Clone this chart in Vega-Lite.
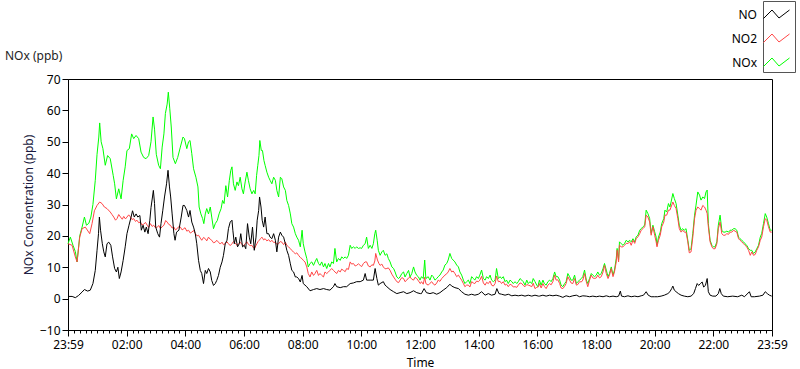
{
"$schema": "https://vega.github.io/schema/vega-lite/v6.json",
"width": 704, "height": 251,
"autosize": {"type": "none"},
"padding": {"left": 68, "top": 79, "right": 28, "bottom": 39},
"background": "white",
"config": {"font": "Noto Sans", "view": {"stroke": "#000", "strokeWidth": 1}},
"title": {"text": "NOx (ppb)", "anchor": "start", "frame": "group", "dx": -63, "offset": 0, "dy": 62, "fontSize": 12, "fontWeight": "normal", "color": "#1e1e1e"},
"datasets": {
"NOx": [{"t":0,"v":17.5},{"t":0.08,"v":19.6},{"t":0.17,"v":17},{"t":0.25,"v":15},{"t":0.31,"v":11.7},{"t":0.4,"v":20},{"t":0.48,"v":22.8},{"t":0.56,"v":26},{"t":0.63,"v":23.4},{"t":0.71,"v":24},{"t":0.78,"v":26},{"t":0.85,"v":30},{"t":0.93,"v":37.7},{"t":0.99,"v":46},{"t":1.05,"v":51.5},{"t":1.08,"v":56},{"t":1.13,"v":50},{"t":1.19,"v":47.8},{"t":1.27,"v":42.5},{"t":1.35,"v":45.6},{"t":1.44,"v":44.6},{"t":1.54,"v":39.3},{"t":1.59,"v":36.6},{"t":1.65,"v":31.8},{"t":1.73,"v":35},{"t":1.81,"v":31.8},{"t":1.88,"v":37.7},{"t":1.95,"v":42},{"t":2.01,"v":47.2},{"t":2.09,"v":47.8},{"t":2.17,"v":52.5},{"t":2.24,"v":51},{"t":2.32,"v":52},{"t":2.41,"v":51},{"t":2.49,"v":46.7},{"t":2.58,"v":45},{"t":2.66,"v":44.6},{"t":2.75,"v":45.6},{"t":2.83,"v":50},{"t":2.9,"v":57.9},{"t":2.95,"v":54},{"t":3.01,"v":46},{"t":3.09,"v":42.5},{"t":3.15,"v":41.4},{"t":3.21,"v":48.3},{"t":3.27,"v":52.5},{"t":3.32,"v":59},{"t":3.38,"v":62},{"t":3.42,"v":65.8},{"t":3.47,"v":60.5},{"t":3.52,"v":54.7},{"t":3.58,"v":45},{"t":3.66,"v":43},{"t":3.74,"v":45},{"t":3.83,"v":48.3},{"t":3.92,"v":51.5},{"t":3.97,"v":51},{"t":4.05,"v":47.8},{"t":4.11,"v":50},{"t":4.16,"v":50.4},{"t":4.22,"v":46.2},{"t":4.28,"v":41.4},{"t":4.36,"v":38.7},{"t":4.43,"v":35.6},{"t":4.47,"v":29.2},{"t":4.53,"v":27},{"t":4.59,"v":25.5},{"t":4.63,"v":23.9},{"t":4.68,"v":27},{"t":4.73,"v":28.7},{"t":4.79,"v":27},{"t":4.85,"v":29.2},{"t":4.9,"v":26},{"t":4.96,"v":22.3},{"t":5.02,"v":23.9},{"t":5.09,"v":24.9},{"t":5.15,"v":27},{"t":5.22,"v":28.7},{"t":5.27,"v":31.3},{"t":5.32,"v":30.3},{"t":5.38,"v":36},{"t":5.44,"v":32.4},{"t":5.5,"v":37.7},{"t":5.55,"v":40.9},{"t":5.59,"v":42},{"t":5.64,"v":36.6},{"t":5.7,"v":34.5},{"t":5.76,"v":37.2},{"t":5.81,"v":36},{"t":5.87,"v":38.7},{"t":5.93,"v":35},{"t":5.98,"v":33.4},{"t":6.04,"v":37.2},{"t":6.1,"v":40.3},{"t":6.15,"v":37.7},{"t":6.21,"v":35},{"t":6.27,"v":33.4},{"t":6.33,"v":34.5},{"t":6.38,"v":33.4},{"t":6.43,"v":39.3},{"t":6.47,"v":42.5},{"t":6.51,"v":45.6},{"t":6.54,"v":50.4},{"t":6.59,"v":47.2},{"t":6.63,"v":47.2},{"t":6.68,"v":44},{"t":6.72,"v":42.5},{"t":6.78,"v":40.3},{"t":6.84,"v":38.7},{"t":6.89,"v":37.7},{"t":6.95,"v":36.6},{"t":7.01,"v":38.7},{"t":7.07,"v":37.7},{"t":7.12,"v":34.5},{"t":7.18,"v":32.4},{"t":7.24,"v":38.7},{"t":7.29,"v":38.2},{"t":7.35,"v":35.6},{"t":7.41,"v":34.5},{"t":7.46,"v":31.3},{"t":7.52,"v":29.7},{"t":7.58,"v":27},{"t":7.63,"v":23.9},{"t":7.69,"v":22.8},{"t":7.75,"v":20.7},{"t":7.8,"v":19.6},{"t":7.86,"v":18.6},{"t":7.92,"v":16.5},{"t":7.98,"v":21.8},{"t":8.02,"v":17.5},{"t":8.08,"v":14.9},{"t":8.14,"v":12.8},{"t":8.19,"v":10.1},{"t":8.25,"v":11.2},{"t":8.31,"v":11.7},{"t":8.37,"v":10.6},{"t":8.42,"v":11.7},{"t":8.48,"v":12.8},{"t":8.54,"v":11.2},{"t":8.59,"v":10.6},{"t":8.65,"v":11.7},{"t":8.71,"v":10.1},{"t":8.76,"v":11.2},{"t":8.82,"v":9.6},{"t":8.88,"v":11.2},{"t":8.93,"v":10.1},{"t":8.99,"v":11.7},{"t":9.05,"v":11.2},{"t":9.1,"v":16},{"t":9.16,"v":11.7},{"t":9.22,"v":12.8},{"t":9.28,"v":12.2},{"t":9.33,"v":13.3},{"t":9.39,"v":12.8},{"t":9.45,"v":13.3},{"t":9.5,"v":12.8},{"t":9.56,"v":13.8},{"t":9.62,"v":17},{"t":9.67,"v":16},{"t":9.73,"v":16.5},{"t":9.79,"v":16},{"t":9.84,"v":16.5},{"t":9.9,"v":16},{"t":9.96,"v":16.2},{"t":10.01,"v":16},{"t":10.07,"v":17},{"t":10.13,"v":17.5},{"t":10.18,"v":19.6},{"t":10.24,"v":16},{"t":10.3,"v":17},{"t":10.36,"v":16},{"t":10.41,"v":17.5},{"t":10.46,"v":20.7},{"t":10.49,"v":21.8},{"t":10.54,"v":18.6},{"t":10.58,"v":15.4},{"t":10.64,"v":13.8},{"t":10.7,"v":14.9},{"t":10.75,"v":15.4},{"t":10.81,"v":13.8},{"t":10.87,"v":14.3},{"t":10.92,"v":12.8},{"t":10.98,"v":11.7},{"t":11.04,"v":10.1},{"t":11.1,"v":9.6},{"t":11.15,"v":8.5},{"t":11.21,"v":6.9},{"t":11.27,"v":6.4},{"t":11.32,"v":6.9},{"t":11.38,"v":8},{"t":11.44,"v":8.5},{"t":11.49,"v":6.9},{"t":11.55,"v":8},{"t":11.61,"v":9},{"t":11.66,"v":6.9},{"t":11.72,"v":8},{"t":11.78,"v":10.1},{"t":11.83,"v":8.5},{"t":11.89,"v":7.4},{"t":11.95,"v":6.9},{"t":12,"v":5.9},{"t":12.05,"v":7},{"t":12.11,"v":6.4},{"t":12.16,"v":12.3},{"t":12.2,"v":6.4},{"t":12.28,"v":7},{"t":12.34,"v":5.9},{"t":12.4,"v":7.5},{"t":12.45,"v":7},{"t":12.51,"v":5.9},{"t":12.57,"v":6.4},{"t":12.62,"v":7},{"t":12.68,"v":7.5},{"t":12.74,"v":8.5},{"t":12.79,"v":9.1},{"t":12.85,"v":10.7},{"t":12.91,"v":11.2},{"t":12.96,"v":12.3},{"t":13.02,"v":14.4},{"t":13.08,"v":12.8},{"t":13.13,"v":12.3},{"t":13.19,"v":11.7},{"t":13.25,"v":10.7},{"t":13.31,"v":10.1},{"t":13.36,"v":8.5},{"t":13.42,"v":7.5},{"t":13.48,"v":5.9},{"t":13.53,"v":4.8},{"t":13.59,"v":5.4},{"t":13.65,"v":5.9},{"t":13.7,"v":4.8},{"t":13.76,"v":7},{"t":13.82,"v":6.4},{"t":13.87,"v":5.9},{"t":13.93,"v":7},{"t":13.99,"v":6.4},{"t":14.04,"v":7.5},{"t":14.1,"v":9.1},{"t":14.16,"v":6.4},{"t":14.22,"v":5.9},{"t":14.27,"v":7},{"t":14.33,"v":6.4},{"t":14.39,"v":7.5},{"t":14.44,"v":5.9},{"t":14.5,"v":5.4},{"t":14.56,"v":5.9},{"t":14.61,"v":9.6},{"t":14.67,"v":6.4},{"t":14.73,"v":7},{"t":14.78,"v":6.4},{"t":14.84,"v":7},{"t":14.9,"v":5.4},{"t":14.95,"v":5.9},{"t":15.01,"v":4.8},{"t":15.07,"v":5.9},{"t":15.13,"v":5.4},{"t":15.18,"v":4.8},{"t":15.24,"v":5.4},{"t":15.3,"v":4.8},{"t":15.35,"v":5.4},{"t":15.41,"v":6.4},{"t":15.47,"v":5.9},{"t":15.52,"v":5.4},{"t":15.58,"v":4.3},{"t":15.64,"v":5.9},{"t":15.69,"v":4.8},{"t":15.75,"v":5.4},{"t":15.81,"v":4.8},{"t":15.86,"v":6.4},{"t":15.92,"v":5.4},{"t":15.98,"v":4.3},{"t":16.02,"v":3.8},{"t":16.07,"v":5.9},{"t":16.13,"v":4.3},{"t":16.19,"v":5.9},{"t":16.24,"v":4.8},{"t":16.3,"v":4.3},{"t":16.36,"v":5.4},{"t":16.42,"v":5.9},{"t":16.47,"v":5.4},{"t":16.53,"v":6.4},{"t":16.59,"v":8.5},{"t":16.64,"v":7},{"t":16.7,"v":7},{"t":16.76,"v":5.9},{"t":16.81,"v":4.3},{"t":16.87,"v":3.8},{"t":16.93,"v":4.8},{"t":16.98,"v":5.4},{"t":17.04,"v":8},{"t":17.1,"v":7},{"t":17.15,"v":5.9},{"t":17.21,"v":5.9},{"t":17.27,"v":7.5},{"t":17.33,"v":4.8},{"t":17.38,"v":5.4},{"t":17.44,"v":5.9},{"t":17.5,"v":6.4},{"t":17.55,"v":7},{"t":17.61,"v":9.1},{"t":17.67,"v":5.9},{"t":17.72,"v":4.8},{"t":17.78,"v":6.4},{"t":17.84,"v":8},{"t":17.89,"v":7.5},{"t":17.95,"v":7},{"t":18.01,"v":7.5},{"t":18.06,"v":8.5},{"t":18.12,"v":7.5},{"t":18.18,"v":8},{"t":18.24,"v":9.6},{"t":18.29,"v":11.2},{"t":18.35,"v":9.1},{"t":18.41,"v":7},{"t":18.46,"v":8},{"t":18.52,"v":10.1},{"t":18.58,"v":7.5},{"t":18.63,"v":9.1},{"t":18.69,"v":12.8},{"t":18.72,"v":16},{"t":18.77,"v":12.3},{"t":18.8,"v":18.1},{"t":18.86,"v":17.5},{"t":18.92,"v":17},{"t":18.97,"v":17.5},{"t":19.03,"v":18.6},{"t":19.09,"v":18.1},{"t":19.15,"v":18.6},{"t":19.2,"v":18.1},{"t":19.26,"v":19.1},{"t":19.32,"v":18.1},{"t":19.37,"v":19.7},{"t":19.43,"v":20.2},{"t":19.49,"v":21.8},{"t":19.54,"v":22.3},{"t":19.6,"v":22.9},{"t":19.66,"v":23.4},{"t":19.71,"v":28.2},{"t":19.77,"v":27.1},{"t":19.83,"v":25.5},{"t":19.88,"v":20.8},{"t":19.94,"v":23.4},{"t":20,"v":21.3},{"t":20.05,"v":19.6},{"t":20.08,"v":17},{"t":20.13,"v":19.6},{"t":20.19,"v":21.2},{"t":20.24,"v":23.9},{"t":20.31,"v":25.5},{"t":20.35,"v":28.2},{"t":20.41,"v":27.6},{"t":20.47,"v":30.3},{"t":20.52,"v":29.2},{"t":20.56,"v":30.8},{"t":20.62,"v":33.5},{"t":20.67,"v":31.9},{"t":20.73,"v":30.3},{"t":20.79,"v":26.6},{"t":20.84,"v":23.4},{"t":20.9,"v":21.8},{"t":20.96,"v":22.3},{"t":21.01,"v":21.8},{"t":21.07,"v":22.3},{"t":21.13,"v":18.6},{"t":21.18,"v":15.4},{"t":21.24,"v":15.9},{"t":21.3,"v":20.8},{"t":21.36,"v":26.6},{"t":21.41,"v":29.8},{"t":21.47,"v":34},{"t":21.53,"v":33},{"t":21.58,"v":31.4},{"t":21.64,"v":32.4},{"t":21.7,"v":31.9},{"t":21.75,"v":34},{"t":21.79,"v":34.6},{"t":21.83,"v":23.9},{"t":21.89,"v":18.6},{"t":21.95,"v":17},{"t":22,"v":16.5},{"t":22.06,"v":16.5},{"t":22.12,"v":18.1},{"t":22.17,"v":23.4},{"t":22.23,"v":26.6},{"t":22.29,"v":21.8},{"t":22.34,"v":21.2},{"t":22.4,"v":21.2},{"t":22.46,"v":21.5},{"t":22.52,"v":21.2},{"t":22.57,"v":21.8},{"t":22.63,"v":21.8},{"t":22.69,"v":22.3},{"t":22.74,"v":22.3},{"t":22.8,"v":21.8},{"t":22.86,"v":19.6},{"t":22.91,"v":19.1},{"t":22.97,"v":18.6},{"t":23.03,"v":18.1},{"t":23.08,"v":17.5},{"t":23.14,"v":17},{"t":23.2,"v":15.9},{"t":23.26,"v":15.4},{"t":23.31,"v":15.4},{"t":23.37,"v":14.4},{"t":23.43,"v":14.9},{"t":23.48,"v":15.9},{"t":23.54,"v":17},{"t":23.6,"v":19.6},{"t":23.65,"v":20.8},{"t":23.71,"v":23.9},{"t":23.77,"v":27.1},{"t":23.82,"v":26},{"t":23.88,"v":23.9},{"t":23.94,"v":21.8},{"t":23.99,"v":21.8}],
"NO2": [{"t":0,"v":17.5},{"t":0.14,"v":17},{"t":0.25,"v":13.3},{"t":0.31,"v":11.7},{"t":0.4,"v":19.6},{"t":0.48,"v":22.3},{"t":0.59,"v":22.8},{"t":0.74,"v":20.7},{"t":0.82,"v":23.9},{"t":0.9,"v":28},{"t":0.99,"v":29.7},{"t":1.08,"v":30.8},{"t":1.16,"v":30.3},{"t":1.24,"v":29.2},{"t":1.33,"v":28.7},{"t":1.44,"v":27.6},{"t":1.5,"v":26.8},{"t":1.56,"v":26},{"t":1.62,"v":25},{"t":1.67,"v":25.5},{"t":1.73,"v":26.8},{"t":1.79,"v":26},{"t":1.85,"v":25.3},{"t":1.9,"v":26.2},{"t":1.96,"v":25.4},{"t":2.01,"v":26},{"t":2.07,"v":26.7},{"t":2.13,"v":26},{"t":2.18,"v":25.2},{"t":2.24,"v":25.5},{"t":2.3,"v":24.6},{"t":2.35,"v":25},{"t":2.41,"v":24.2},{"t":2.47,"v":24.4},{"t":2.52,"v":23.5},{"t":2.58,"v":23.7},{"t":2.64,"v":24.3},{"t":2.7,"v":23.4},{"t":2.75,"v":22.7},{"t":2.81,"v":23.9},{"t":2.87,"v":23},{"t":2.92,"v":23.4},{"t":2.98,"v":22.6},{"t":3.04,"v":22.8},{"t":3.1,"v":23.3},{"t":3.15,"v":22.3},{"t":3.21,"v":22.9},{"t":3.27,"v":23.4},{"t":3.33,"v":24.9},{"t":3.38,"v":24.4},{"t":3.44,"v":23.6},{"t":3.49,"v":23.4},{"t":3.55,"v":22.5},{"t":3.61,"v":22.8},{"t":3.66,"v":21.9},{"t":3.72,"v":22.3},{"t":3.78,"v":23},{"t":3.83,"v":22.8},{"t":3.89,"v":21.9},{"t":3.95,"v":22.3},{"t":3.99,"v":22.6},{"t":4.05,"v":21.5},{"t":4.11,"v":21.8},{"t":4.17,"v":20.9},{"t":4.22,"v":21.2},{"t":4.28,"v":21.7},{"t":4.34,"v":20.7},{"t":4.4,"v":20},{"t":4.45,"v":20.2},{"t":4.51,"v":19.3},{"t":4.56,"v":18.6},{"t":4.62,"v":19.5},{"t":4.68,"v":19.1},{"t":4.73,"v":18.4},{"t":4.79,"v":19.6},{"t":4.85,"v":18.9},{"t":4.9,"v":18.6},{"t":4.96,"v":17.8},{"t":5.02,"v":18},{"t":5.07,"v":18.6},{"t":5.13,"v":18},{"t":5.19,"v":17.4},{"t":5.25,"v":18},{"t":5.3,"v":17.2},{"t":5.36,"v":17.5},{"t":5.42,"v":18.1},{"t":5.47,"v":17.5},{"t":5.53,"v":16.9},{"t":5.59,"v":17.5},{"t":5.64,"v":18.2},{"t":5.7,"v":17.7},{"t":5.76,"v":17},{"t":5.81,"v":17.5},{"t":5.87,"v":18},{"t":5.93,"v":17.3},{"t":5.98,"v":16.8},{"t":6.04,"v":17.5},{"t":6.1,"v":18.1},{"t":6.15,"v":17.3},{"t":6.21,"v":16.9},{"t":6.27,"v":17},{"t":6.32,"v":16.2},{"t":6.36,"v":15.9},{"t":6.4,"v":16.8},{"t":6.44,"v":17.5},{"t":6.48,"v":18.2},{"t":6.52,"v":18.6},{"t":6.57,"v":19.2},{"t":6.61,"v":19.6},{"t":6.67,"v":18.7},{"t":6.72,"v":19.1},{"t":6.78,"v":18.4},{"t":6.84,"v":18.8},{"t":6.9,"v":18.1},{"t":6.95,"v":18.6},{"t":7.01,"v":17.9},{"t":7.07,"v":18},{"t":7.12,"v":17.3},{"t":7.18,"v":17.5},{"t":7.24,"v":18.2},{"t":7.29,"v":18},{"t":7.35,"v":17.2},{"t":7.41,"v":18},{"t":7.46,"v":17},{"t":7.52,"v":16.5},{"t":7.58,"v":15.9},{"t":7.63,"v":15.4},{"t":7.69,"v":14.8},{"t":7.75,"v":14.3},{"t":7.8,"v":14.6},{"t":7.86,"v":13.8},{"t":7.92,"v":13.1},{"t":7.98,"v":12.7},{"t":8.02,"v":12.2},{"t":8.08,"v":11.7},{"t":8.14,"v":10.1},{"t":8.19,"v":8},{"t":8.25,"v":6.9},{"t":8.31,"v":8.5},{"t":8.37,"v":7.4},{"t":8.42,"v":8},{"t":8.48,"v":9},{"t":8.54,"v":7.4},{"t":8.59,"v":8},{"t":8.65,"v":7.4},{"t":8.71,"v":6.9},{"t":8.76,"v":8.5},{"t":8.82,"v":8},{"t":8.88,"v":8.5},{"t":8.93,"v":9},{"t":8.99,"v":9.6},{"t":9.05,"v":9},{"t":9.1,"v":8.5},{"t":9.16,"v":8},{"t":9.22,"v":9},{"t":9.28,"v":8.5},{"t":9.33,"v":9.4},{"t":9.39,"v":9},{"t":9.45,"v":8.6},{"t":9.5,"v":9.6},{"t":9.56,"v":9.3},{"t":9.62,"v":11.7},{"t":9.67,"v":11},{"t":9.73,"v":11.2},{"t":9.79,"v":10.4},{"t":9.84,"v":10.6},{"t":9.9,"v":11.1},{"t":9.96,"v":10.6},{"t":10.01,"v":10.2},{"t":10.07,"v":11.2},{"t":10.13,"v":11.7},{"t":10.18,"v":11.7},{"t":10.24,"v":10.4},{"t":10.3,"v":10.1},{"t":10.36,"v":10.8},{"t":10.41,"v":10.6},{"t":10.46,"v":12},{"t":10.49,"v":14.4},{"t":10.55,"v":12.3},{"t":10.6,"v":11.2},{"t":10.64,"v":10.6},{"t":10.7,"v":11},{"t":10.75,"v":10.1},{"t":10.81,"v":9.5},{"t":10.87,"v":9.6},{"t":10.92,"v":9.8},{"t":10.98,"v":9},{"t":11.04,"v":7.8},{"t":11.1,"v":6.9},{"t":11.15,"v":6.2},{"t":11.21,"v":5.4},{"t":11.27,"v":5.1},{"t":11.32,"v":5.9},{"t":11.38,"v":6.7},{"t":11.44,"v":6.4},{"t":11.49,"v":5.4},{"t":11.55,"v":5.9},{"t":11.61,"v":6.6},{"t":11.66,"v":6.9},{"t":11.72,"v":6.2},{"t":11.78,"v":5.9},{"t":11.83,"v":6.8},{"t":11.89,"v":6.4},{"t":11.95,"v":5.6},{"t":12.01,"v":4.8},{"t":12.05,"v":5.4},{"t":12.11,"v":4.6},{"t":12.16,"v":6.8},{"t":12.2,"v":4.8},{"t":12.28,"v":4.3},{"t":12.34,"v":4.9},{"t":12.4,"v":5.4},{"t":12.45,"v":4.7},{"t":12.51,"v":4.3},{"t":12.57,"v":5},{"t":12.62,"v":5.9},{"t":12.68,"v":5.5},{"t":12.74,"v":6.4},{"t":12.79,"v":6.9},{"t":12.85,"v":7.5},{"t":12.91,"v":7.9},{"t":12.96,"v":8.5},{"t":13.02,"v":9.6},{"t":13.08,"v":8.5},{"t":13.13,"v":8.8},{"t":13.19,"v":8},{"t":13.25,"v":7},{"t":13.31,"v":7.5},{"t":13.36,"v":6.7},{"t":13.42,"v":5.9},{"t":13.48,"v":4.8},{"t":13.53,"v":3.8},{"t":13.59,"v":4.3},{"t":13.65,"v":4.3},{"t":13.7,"v":3.7},{"t":13.76,"v":5.4},{"t":13.82,"v":5},{"t":13.87,"v":4.8},{"t":13.93,"v":5.6},{"t":13.99,"v":5.4},{"t":14.04,"v":5.9},{"t":14.1,"v":7.1},{"t":14.16,"v":5},{"t":14.22,"v":4.3},{"t":14.27,"v":5.2},{"t":14.33,"v":4.8},{"t":14.39,"v":5.6},{"t":14.44,"v":4.3},{"t":14.5,"v":4},{"t":14.56,"v":4.8},{"t":14.61,"v":7.2},{"t":14.67,"v":5.4},{"t":14.73,"v":5.5},{"t":14.78,"v":4.8},{"t":14.84,"v":5.4},{"t":14.9,"v":4.3},{"t":14.95,"v":4.6},{"t":15.01,"v":3.8},{"t":15.07,"v":4.6},{"t":15.13,"v":4.3},{"t":15.18,"v":3.7},{"t":15.24,"v":3.8},{"t":15.3,"v":3.6},{"t":15.35,"v":4.3},{"t":15.41,"v":5},{"t":15.47,"v":4.8},{"t":15.52,"v":4.2},{"t":15.58,"v":3.8},{"t":15.64,"v":4.5},{"t":15.69,"v":4.3},{"t":15.75,"v":4.1},{"t":15.81,"v":3.8},{"t":15.86,"v":4.9},{"t":15.92,"v":3.2},{"t":15.98,"v":3.6},{"t":16.04,"v":3.8},{"t":16.07,"v":4.8},{"t":16.13,"v":3.4},{"t":16.19,"v":4.8},{"t":16.24,"v":3.9},{"t":16.3,"v":3.2},{"t":16.36,"v":4.3},{"t":16.42,"v":4.8},{"t":16.47,"v":4.4},{"t":16.53,"v":5.4},{"t":16.59,"v":7.5},{"t":16.64,"v":5.9},{"t":16.7,"v":6},{"t":16.76,"v":4.8},{"t":16.81,"v":3.4},{"t":16.87,"v":3.2},{"t":16.93,"v":3.9},{"t":16.98,"v":4.8},{"t":17.04,"v":7},{"t":17.1,"v":5.9},{"t":17.15,"v":5},{"t":17.21,"v":4.8},{"t":17.27,"v":6.4},{"t":17.33,"v":4.3},{"t":17.38,"v":4.5},{"t":17.44,"v":5.4},{"t":17.5,"v":5.3},{"t":17.55,"v":5.9},{"t":17.61,"v":8},{"t":17.67,"v":5.4},{"t":17.72,"v":3.8},{"t":17.78,"v":5.9},{"t":17.84,"v":7.5},{"t":17.89,"v":6.6},{"t":17.95,"v":6.4},{"t":18.01,"v":6.6},{"t":18.06,"v":7.5},{"t":18.12,"v":6.6},{"t":18.18,"v":7},{"t":18.24,"v":8.5},{"t":18.29,"v":10.6},{"t":18.35,"v":8},{"t":18.41,"v":6.4},{"t":18.46,"v":7.5},{"t":18.52,"v":9.6},{"t":18.58,"v":7},{"t":18.63,"v":8.5},{"t":18.69,"v":11.7},{"t":18.72,"v":15.4},{"t":18.77,"v":11.7},{"t":18.8,"v":17},{"t":18.86,"v":16.5},{"t":18.92,"v":16.5},{"t":18.97,"v":17},{"t":19.03,"v":17.6},{"t":19.09,"v":17.6},{"t":19.15,"v":18.1},{"t":19.2,"v":17},{"t":19.26,"v":18.6},{"t":19.32,"v":17.6},{"t":19.37,"v":19.1},{"t":19.43,"v":19.7},{"t":19.49,"v":20.7},{"t":19.54,"v":21.8},{"t":19.6,"v":22.3},{"t":19.66,"v":22.9},{"t":19.71,"v":26.6},{"t":19.77,"v":26},{"t":19.83,"v":24.4},{"t":19.88,"v":20.2},{"t":19.94,"v":22.9},{"t":20,"v":20.2},{"t":20.05,"v":18.1},{"t":20.08,"v":16.5},{"t":20.13,"v":18.6},{"t":20.19,"v":20.2},{"t":20.24,"v":22.9},{"t":20.31,"v":24.4},{"t":20.35,"v":26.6},{"t":20.41,"v":26.6},{"t":20.47,"v":28.2},{"t":20.52,"v":28.2},{"t":20.56,"v":29.2},{"t":20.62,"v":30.8},{"t":20.67,"v":29.7},{"t":20.73,"v":28.7},{"t":20.79,"v":25.5},{"t":20.84,"v":22.3},{"t":20.9,"v":21.2},{"t":20.96,"v":21.8},{"t":21.01,"v":21.2},{"t":21.07,"v":21.2},{"t":21.13,"v":18.1},{"t":21.18,"v":14.6},{"t":21.24,"v":14.9},{"t":21.3,"v":19.6},{"t":21.36,"v":25.5},{"t":21.41,"v":28.2},{"t":21.47,"v":29.2},{"t":21.53,"v":28.7},{"t":21.58,"v":28.2},{"t":21.64,"v":29.7},{"t":21.7,"v":29.2},{"t":21.75,"v":28.2},{"t":21.79,"v":27.1},{"t":21.83,"v":22.9},{"t":21.89,"v":18.1},{"t":21.95,"v":16.5},{"t":22,"v":15.9},{"t":22.06,"v":15.9},{"t":22.12,"v":17.5},{"t":22.17,"v":22.3},{"t":22.23,"v":24.4},{"t":22.29,"v":20.7},{"t":22.34,"v":20.2},{"t":22.4,"v":20.2},{"t":22.46,"v":20.7},{"t":22.52,"v":20.5},{"t":22.57,"v":21.2},{"t":22.63,"v":21.2},{"t":22.69,"v":21.8},{"t":22.74,"v":21.5},{"t":22.8,"v":21.2},{"t":22.86,"v":19.1},{"t":22.91,"v":18.6},{"t":22.97,"v":18.1},{"t":23.03,"v":17.5},{"t":23.08,"v":17},{"t":23.14,"v":16.5},{"t":23.2,"v":15.4},{"t":23.26,"v":13.8},{"t":23.31,"v":14.9},{"t":23.37,"v":13.8},{"t":23.43,"v":14.1},{"t":23.48,"v":15.4},{"t":23.54,"v":16.5},{"t":23.6,"v":18.6},{"t":23.65,"v":19.6},{"t":23.71,"v":22.9},{"t":23.77,"v":25.5},{"t":23.82,"v":25},{"t":23.88,"v":22.9},{"t":23.94,"v":21.2},{"t":23.99,"v":21.2}],
"NO": [{"t":0,"v":0.7},{"t":0.14,"v":0.7},{"t":0.25,"v":0.3},{"t":0.36,"v":1},{"t":0.48,"v":2.1},{"t":0.56,"v":2.9},{"t":0.67,"v":2.4},{"t":0.76,"v":2.7},{"t":0.85,"v":4.8},{"t":0.93,"v":9},{"t":0.99,"v":15.4},{"t":1.04,"v":20.7},{"t":1.07,"v":26},{"t":1.11,"v":21.8},{"t":1.17,"v":17.5},{"t":1.22,"v":14.9},{"t":1.27,"v":13.3},{"t":1.33,"v":17.5},{"t":1.39,"v":18},{"t":1.46,"v":17},{"t":1.52,"v":13.3},{"t":1.59,"v":9.6},{"t":1.65,"v":8.5},{"t":1.7,"v":10},{"t":1.75,"v":6.4},{"t":1.81,"v":8.5},{"t":1.88,"v":12.2},{"t":1.95,"v":16.5},{"t":2.01,"v":20.7},{"t":2.08,"v":23.4},{"t":2.15,"v":26},{"t":2.2,"v":28},{"t":2.26,"v":26},{"t":2.32,"v":27},{"t":2.38,"v":26},{"t":2.45,"v":26.5},{"t":2.5,"v":21.8},{"t":2.56,"v":23.4},{"t":2.62,"v":21.2},{"t":2.67,"v":22.8},{"t":2.73,"v":20.7},{"t":2.79,"v":25},{"t":2.83,"v":29},{"t":2.88,"v":32.4},{"t":2.91,"v":34.5},{"t":2.95,"v":30.3},{"t":2.99,"v":22.8},{"t":3.06,"v":20.7},{"t":3.12,"v":19.6},{"t":3.17,"v":23.9},{"t":3.23,"v":28},{"t":3.29,"v":32.4},{"t":3.36,"v":36.6},{"t":3.41,"v":40.9},{"t":3.46,"v":35.6},{"t":3.5,"v":32.4},{"t":3.55,"v":27},{"t":3.61,"v":20.7},{"t":3.65,"v":18.6},{"t":3.7,"v":21.2},{"t":3.78,"v":21.8},{"t":3.86,"v":26},{"t":3.92,"v":29.7},{"t":3.97,"v":29.7},{"t":4.05,"v":28.1},{"t":4.11,"v":26},{"t":4.16,"v":28.1},{"t":4.22,"v":24.4},{"t":4.28,"v":22.8},{"t":4.34,"v":20.7},{"t":4.39,"v":17.5},{"t":4.45,"v":12.2},{"t":4.51,"v":9},{"t":4.56,"v":8},{"t":4.62,"v":4.8},{"t":4.68,"v":9},{"t":4.73,"v":8},{"t":4.79,"v":9.6},{"t":4.85,"v":8.5},{"t":4.9,"v":5.8},{"t":4.96,"v":4.2},{"t":5.02,"v":4.8},{"t":5.07,"v":5.8},{"t":5.13,"v":7.4},{"t":5.19,"v":10},{"t":5.25,"v":11.7},{"t":5.3,"v":13.8},{"t":5.36,"v":17.5},{"t":5.42,"v":18.6},{"t":5.47,"v":22.3},{"t":5.53,"v":24.4},{"t":5.59,"v":25},{"t":5.62,"v":21.8},{"t":5.67,"v":17.5},{"t":5.72,"v":19.6},{"t":5.78,"v":16.5},{"t":5.84,"v":17.5},{"t":5.89,"v":20.7},{"t":5.95,"v":16.5},{"t":6.01,"v":17},{"t":6.06,"v":15.9},{"t":6.12,"v":23.9},{"t":6.18,"v":19.6},{"t":6.23,"v":17.5},{"t":6.29,"v":22.8},{"t":6.35,"v":15.4},{"t":6.41,"v":19.6},{"t":6.45,"v":25},{"t":6.5,"v":28.1},{"t":6.53,"v":32.4},{"t":6.58,"v":29.2},{"t":6.62,"v":25},{"t":6.67,"v":22.8},{"t":6.72,"v":26},{"t":6.78,"v":20.7},{"t":6.84,"v":20.7},{"t":6.89,"v":19.6},{"t":6.95,"v":19.1},{"t":7.01,"v":20.7},{"t":7.07,"v":18.6},{"t":7.12,"v":14.9},{"t":7.18,"v":19.6},{"t":7.24,"v":21.2},{"t":7.29,"v":20.2},{"t":7.35,"v":19.6},{"t":7.41,"v":17.5},{"t":7.46,"v":15.4},{"t":7.52,"v":13.8},{"t":7.58,"v":11.1},{"t":7.63,"v":9},{"t":7.69,"v":8.5},{"t":7.75,"v":6.9},{"t":7.8,"v":6.9},{"t":7.86,"v":6.4},{"t":7.92,"v":5.3},{"t":7.98,"v":7.4},{"t":8.02,"v":4.8},{"t":8.08,"v":4.3},{"t":8.14,"v":3.8},{"t":8.25,"v":2.5},{"t":8.37,"v":2.9},{"t":8.48,"v":3.2},{"t":8.59,"v":2.9},{"t":8.71,"v":3.2},{"t":8.82,"v":2.9},{"t":8.93,"v":2.7},{"t":9.05,"v":3.8},{"t":9.1,"v":4.8},{"t":9.16,"v":3.8},{"t":9.28,"v":3.5},{"t":9.39,"v":3.8},{"t":9.5,"v":3.8},{"t":9.62,"v":4.8},{"t":9.73,"v":5},{"t":9.84,"v":5.4},{"t":9.96,"v":5.4},{"t":10.07,"v":5.9},{"t":10.13,"v":8},{"t":10.18,"v":5.9},{"t":10.3,"v":5.9},{"t":10.41,"v":5.9},{"t":10.47,"v":9.6},{"t":10.53,"v":6.4},{"t":10.58,"v":4.3},{"t":10.64,"v":4.8},{"t":10.75,"v":5.4},{"t":10.81,"v":4.3},{"t":10.87,"v":3.8},{"t":10.98,"v":2.9},{"t":11.1,"v":2.2},{"t":11.21,"v":1.6},{"t":11.32,"v":1.9},{"t":11.44,"v":2.2},{"t":11.55,"v":1.6},{"t":11.66,"v":1.9},{"t":11.78,"v":2.5},{"t":11.89,"v":1.9},{"t":12.01,"v":1.6},{"t":12.05,"v":1.6},{"t":12.14,"v":3.2},{"t":12.22,"v":1.9},{"t":12.34,"v":1.6},{"t":12.45,"v":1.9},{"t":12.57,"v":1.4},{"t":12.68,"v":1.9},{"t":12.79,"v":2.7},{"t":12.91,"v":3.5},{"t":13.02,"v":4.6},{"t":13.08,"v":4},{"t":13.19,"v":3.5},{"t":13.31,"v":3.2},{"t":13.42,"v":2.2},{"t":13.53,"v":1.4},{"t":13.65,"v":1.1},{"t":13.76,"v":1.4},{"t":13.87,"v":1.1},{"t":13.99,"v":1.4},{"t":14.1,"v":2.2},{"t":14.22,"v":1.1},{"t":14.33,"v":1.6},{"t":14.44,"v":1.1},{"t":14.56,"v":1.4},{"t":14.62,"v":3.2},{"t":14.69,"v":1.6},{"t":14.78,"v":1.4},{"t":14.9,"v":1.1},{"t":15.01,"v":1.4},{"t":15.13,"v":0.9},{"t":15.24,"v":1.1},{"t":15.35,"v":0.9},{"t":15.47,"v":1.1},{"t":15.58,"v":0.8},{"t":15.69,"v":1.1},{"t":15.81,"v":0.8},{"t":15.92,"v":1.1},{"t":16.04,"v":0.8},{"t":16.07,"v":0.8},{"t":16.19,"v":1.1},{"t":16.3,"v":0.8},{"t":16.42,"v":1.1},{"t":16.53,"v":0.9},{"t":16.64,"v":1.1},{"t":16.76,"v":0.8},{"t":16.87,"v":0.4},{"t":16.98,"v":0.9},{"t":17.1,"v":0.6},{"t":17.21,"v":0.9},{"t":17.33,"v":1.1},{"t":17.44,"v":0.6},{"t":17.55,"v":0.9},{"t":17.67,"v":0.8},{"t":17.78,"v":0.6},{"t":17.89,"v":0.8},{"t":18.01,"v":0.6},{"t":18.12,"v":0.8},{"t":18.24,"v":0.6},{"t":18.35,"v":0.9},{"t":18.46,"v":0.6},{"t":18.58,"v":0.8},{"t":18.69,"v":0.6},{"t":18.77,"v":0.8},{"t":18.83,"v":2.4},{"t":18.87,"v":0.8},{"t":18.97,"v":0.6},{"t":19.09,"v":0.9},{"t":19.2,"v":0.6},{"t":19.32,"v":0.8},{"t":19.43,"v":0.6},{"t":19.54,"v":0.9},{"t":19.62,"v":1.1},{"t":19.71,"v":2.2},{"t":19.78,"v":1.1},{"t":19.88,"v":0.6},{"t":19.99,"v":0.6},{"t":20.1,"v":0.6},{"t":20.22,"v":0.8},{"t":20.33,"v":1.1},{"t":20.45,"v":1.6},{"t":20.52,"v":2.2},{"t":20.58,"v":3.2},{"t":20.62,"v":4},{"t":20.67,"v":2.7},{"t":20.73,"v":2.2},{"t":20.81,"v":1.6},{"t":20.9,"v":1.1},{"t":21.01,"v":0.8},{"t":21.13,"v":0.6},{"t":21.24,"v":0.8},{"t":21.33,"v":1.6},{"t":21.39,"v":3.2},{"t":21.45,"v":4.8},{"t":21.5,"v":4.2},{"t":21.56,"v":4.8},{"t":21.62,"v":5.3},{"t":21.67,"v":3.7},{"t":21.73,"v":4.2},{"t":21.79,"v":6.4},{"t":21.83,"v":2.2},{"t":21.89,"v":1.1},{"t":21.98,"v":0.8},{"t":22.09,"v":0.8},{"t":22.17,"v":1.6},{"t":22.22,"v":3.2},{"t":22.27,"v":1.6},{"t":22.34,"v":0.8},{"t":22.49,"v":0.6},{"t":22.66,"v":0.8},{"t":22.83,"v":0.6},{"t":22.97,"v":1.1},{"t":23.06,"v":0.6},{"t":23.23,"v":2.2},{"t":23.29,"v":0.6},{"t":23.4,"v":0.6},{"t":23.57,"v":0.8},{"t":23.69,"v":1.1},{"t":23.77,"v":2.2},{"t":23.84,"v":1.6},{"t":23.91,"v":1.1},{"t":23.99,"v":0.8}]
},
"encoding": {
  "x": {"field": "t", "type": "quantitative", "scale": {"domain": [0, 24], "nice": false, "zero": false},
    "axis": {"title": "Time", "tickCount": 120, "grid": false, "labelFlush": false, "labelOverlap": false, "labelBound": false,
      "labelExpr": "datum.value % 2 === 0 ? ((datum.value === 0 || datum.value === 24) ? '23:59' : (datum.value < 10 ? '0' : '') + datum.value + ':00') : ''",
      "tickSize": {"condition": {"test": "datum.value % 2 === 0", "value": 6}, "value": 3},
      "domainColor": "#000", "tickColor": "#000", "labelColor": "#000", "titleColor": "#000",
      "labelFontSize": 12, "labelPadding": 3, "titleFontSize": 12, "titleFontWeight": "normal", "titlePadding": 7}},
  "y": {"field": "v", "type": "quantitative", "scale": {"domain": [-10, 70], "nice": false, "zero": false},
    "axis": {"title": "NOx Concentration (ppb)", "values": [-10, 0, 10, 20, 30, 40, 50, 60, 70], "grid": false, "tickSize": 6,
      "domainColor": "#000", "tickColor": "#000", "labelColor": "#000", "titleColor": "#1a1a40",
      "labelFontSize": 12, "labelPadding": 2, "titleFontSize": 12, "titleFontWeight": "normal", "titlePadding": 4}},
  "color": {"scale": {"domain": ["NO", "NO2", "NOx"], "range": ["#000000", "#ff4646", "#00ff00"]},
    "legend": {"title": null, "orient": "none", "legendX": 695, "legendY": -78, "direction": "vertical",
      "symbolType": "M-1.3,0.4L-0.45,-0.45L0.25,0.35L1.3,-0.45", "symbolSize": 400, "symbolStrokeWidth": 1, "symbolFillColor": "transparent",
      "labelFontSize": 12, "labelColor": "#000", "labelAlign": "right", "labelOffset": -30, "rowPadding": 7,
      "strokeColor": "#555", "fillColor": "white", "padding": 3}}
},
"layer": [
  {"data": {"name": "NOx"}, "mark": {"type": "line", "strokeWidth": 1}, "encoding": {"color": {"datum": "NOx"}}},
  {"data": {"name": "NO2"}, "mark": {"type": "line", "strokeWidth": 1}, "encoding": {"color": {"datum": "NO2"}}},
  {"data": {"name": "NO"}, "mark": {"type": "line", "strokeWidth": 1}, "encoding": {"color": {"datum": "NO"}}}
]
}
